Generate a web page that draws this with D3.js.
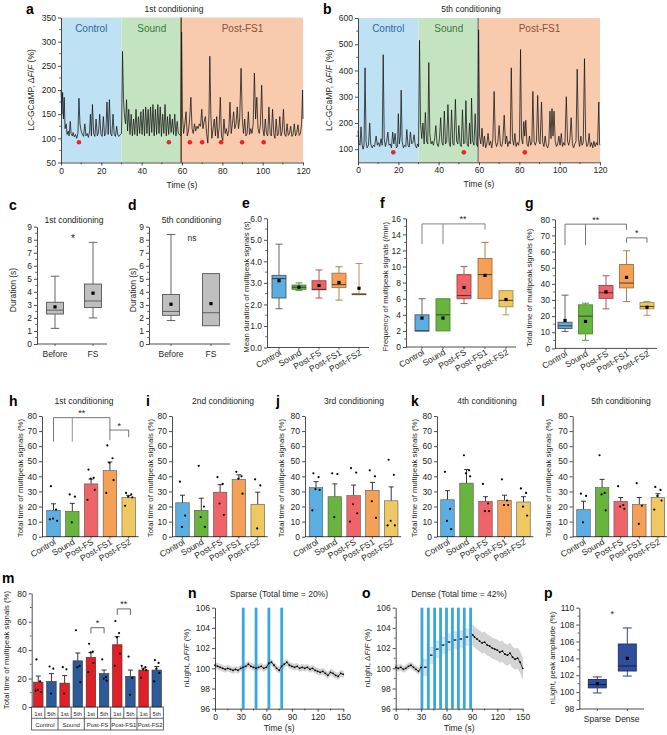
<!DOCTYPE html>
<html><head><meta charset="utf-8">
<script src="https://cdn.jsdelivr.net/npm/d3@7"></script>
<style>body{margin:0;background:#fff}text{font-family:"Liberation Sans",Arial,sans-serif}</style>
</head><body><svg id="c" width="667" height="735"></svg>
<script>
// ---------------- DATA ----------------
const regionNames = ["Control","Sound","Post-FS1"];
const regionStart = [0,30,60];
const regionEnd = [30,60,120];
const traceA = [[0,200],[0.4,150],[0.8,195],[1.2,140],[1.6,185],[2,120],[2.6,130],[3,108],[3.6,115],[4,105],[4.6,135],[5,110],[5.6,105],[6,112],[6.6,103],[7.2,108],[7.8,100],[8.4,110],[8.9,183],[9.4,130],[10,115],[10.6,108],[11.2,104],[11.8,130],[12.4,105],[13,110],[13.6,102],[14.2,115],[14.6,150],[15.1,105],[15.6,170],[16.2,110],[16.8,104],[17.4,140],[18,105],[18.6,112],[19.2,150],[19.8,108],[20.4,104],[21,145],[21.6,105],[22.2,110],[22.8,175],[23.4,108],[24,180],[24.6,110],[25.2,105],[25.8,150],[26.4,108],[27,104],[27.6,125],[28.2,106],[28.8,104],[29.4,108],[30,110],[30.5,280],[31,180],[31.4,150],[32,130],[32.5,180],[33,115],[33.6,160],[34.2,108],[34.8,150],[35.4,105],[36,140],[36.6,108],[37.2,160],[37.8,105],[38.4,145],[39,110],[39.6,155],[40.2,108],[40.8,160],[41.4,105],[42,165],[42.6,110],[43.2,160],[43.8,105],[44.4,165],[45,112],[45.6,170],[46.2,105],[46.8,160],[47.4,108],[48,170],[48.6,110],[49.2,165],[49.8,104],[50.4,150],[51,110],[51.6,170],[52.2,105],[52.8,145],[53.4,108],[54,150],[54.6,112],[55.2,140],[55.8,108],[56.4,150],[57,105],[57.6,135],[58.2,110],[58.8,108],[59.4,105],[59.8,320],[60.2,150],[60.8,110],[61.4,130],[62,155],[62.6,105],[63.2,115],[63.8,140],[64.4,185],[65,120],[65.6,110],[66.2,130],[66.8,115],[67.4,125],[68,120],[68.6,130],[69.2,125],[69.8,160],[70.4,120],[71,135],[71.6,145],[72.2,110],[72.8,90],[73.4,150],[73.8,270],[74.3,150],[74.8,100],[75.4,120],[76,140],[76.6,105],[77.2,145],[77.8,100],[78.4,120],[79,185],[79.6,105],[80.2,95],[80.8,140],[81.4,110],[82,120],[82.6,105],[83.2,115],[83.8,175],[84.4,110],[85,130],[85.6,155],[86.2,120],[86.8,130],[87.4,165],[88,120],[88.6,140],[89.3,245],[89.9,140],[90.5,110],[91.1,140],[91.7,105],[92.3,110],[92.9,155],[93.5,108],[94.1,120],[94.7,110],[95.3,130],[95.9,235],[96.5,140],[97.1,185],[97.7,120],[98.3,110],[98.9,130],[99.5,210],[100.1,120],[100.7,105],[101.3,140],[101.9,110],[102.5,105],[103.1,165],[103.7,110],[104.3,105],[104.9,160],[105.5,110],[106.1,100],[106.7,140],[107.3,105],[107.9,110],[108.5,145],[109.1,105],[109.7,115],[110.3,160],[110.9,108],[111.5,104],[112.1,130],[112.7,106],[113.3,110],[113.9,125],[114.5,104],[115.1,108],[115.7,130],[116.3,105],[116.9,112],[117.5,128],[118.1,106],[118.7,110],[119.3,130],[119.8,200],[120,140]];
const traceB = [[0,170],[0.5,120],[1,115],[1.5,185],[2,120],[2.5,100],[3,115],[3.5,410],[4,130],[4.5,105],[5.2,115],[5.8,200],[6.3,120],[7,105],[7.6,115],[8.2,110],[9,150],[9.6,115],[10.2,125],[10.8,110],[11.4,140],[12,115],[12.5,460],[13,140],[13.6,110],[14.2,130],[14.8,165],[15.4,115],[16,120],[16.6,105],[17.2,165],[17.8,120],[18.4,160],[19,105],[19.6,110],[20,235],[20.5,120],[21,150],[21.4,325],[21.9,130],[22.5,105],[23.1,115],[23.7,110],[24.2,175],[24.8,115],[25.4,108],[26,165],[26.6,120],[27.2,125],[27.8,155],[28.4,115],[29,105],[29.6,120],[30,110],[30.5,515],[31,200],[31.6,140],[32.2,200],[32.8,120],[33.4,240],[34,130],[34.6,120],[35.1,430],[35.6,160],[36.2,120],[36.8,130],[37.4,115],[38,140],[38.6,190],[39.2,120],[39.8,110],[40.4,140],[41,220],[41.6,125],[42.2,115],[42.8,245],[43.4,120],[44,130],[44.6,270],[45.2,125],[45.8,110],[46.4,250],[47,120],[47.6,115],[48.3,290],[48.9,130],[49.5,120],[50,190],[50.6,120],[51.2,110],[51.8,250],[52.4,120],[53,125],[53.5,285],[54.1,120],[54.7,110],[55.3,200],[55.9,120],[56.3,295],[56.9,130],[57.5,115],[58.1,235],[58.7,120],[59.3,110],[59.8,555],[60.3,150],[60.9,120],[61.5,180],[62.1,110],[62.7,150],[63.3,105],[63.9,120],[64.5,160],[65.1,115],[65.7,130],[66.3,105],[66.9,140],[67.5,320],[68.1,130],[68.7,110],[69.3,125],[70,190],[70.6,115],[71.2,110],[71.8,130],[72.5,230],[73.1,120],[73.7,150],[74.3,110],[74.9,130],[75.5,120],[76,410],[76.6,140],[77.2,115],[77.8,160],[78.4,110],[79,125],[79.6,115],[80.1,140],[80.6,480],[81.1,140],[81.7,120],[82.2,205],[82.7,150],[83.2,210],[83.8,120],[84.4,110],[85,150],[85.6,115],[86.2,125],[86.7,320],[87.3,130],[87.9,115],[88.5,130],[89.1,305],[89.7,130],[90.3,120],[91,280],[91.6,125],[92.2,110],[92.8,150],[93.4,115],[94,105],[94.6,120],[95.2,245],[95.7,140],[96.2,255],[96.7,150],[97.2,245],[97.8,130],[98.4,110],[99,120],[99.6,150],[100.2,115],[100.8,160],[101.4,110],[102,125],[102.6,115],[103.3,300],[103.9,130],[104.5,115],[105.1,140],[105.7,220],[106.3,120],[106.9,105],[107.5,120],[108.1,130],[108.7,405],[109.3,140],[109.9,110],[110.5,150],[111.1,115],[111.7,125],[112.3,445],[112.9,140],[113.5,110],[114.1,120],[114.6,160],[115.2,110],[115.8,125],[116.4,105],[117,130],[117.6,110],[118.2,125],[118.8,115],[119.4,280],[119.8,120],[120,115]];
const dotsA = [8.9,53.5,63.9,70,79.4,89.8,100.5];
const dotsB = [17.5,52.5,82.7];
const dotLevelA = 92, dotLevelB = 88;

const durGroups = ["Before","FS"];
const boxC = [{min:1.2,q1:2.3,med:2.6,q3:3.2,max:5.2,mean:2.85},{min:2,q1:2.8,med:3.3,q3:4.6,max:7.8,mean:3.9}];
const boxD = [{min:1.8,q1:2.2,med:2.5,q3:3.8,max:8.4,mean:3.05},{min:1.4,q1:1.4,med:2.4,q3:5.4,max:5.4,mean:3.1}];

const cats = ["Control","Sound","Post-FS","Post-FS1","Post-FS2"];
const catColors = ["#5aaee1","#67b43f","#ef6468","#f5a057","#f0c863"];
const boxE = [{min:1.8,q1:2.3,med:3.2,q3:3.35,max:4.8,mean:3.1},{min:2.65,q1:2.7,med:2.8,q3:2.9,max:3.0,mean:2.8},{min:2.3,q1:2.68,med:2.7,q3:3.1,max:3.6,mean:2.88},{min:2.2,q1:2.78,med:2.92,q3:3.45,max:3.75,mean:3.02},{min:2.45,q1:2.45,med:2.47,q3:2.5,max:3.9,mean:2.75}];
const boxF = [{min:2,q1:2,med:2,q3:4,max:6,mean:3.6},{min:2,q1:2,med:4,q3:6,max:6,mean:3.6},{min:5.4,q1:6,med:6.4,q3:9,max:10,mean:7.4},{min:6,q1:6,med:9,q3:11,max:13,mean:8.9},{min:4,q1:5,med:5.8,q3:7,max:7,mean:5.9}];
const boxG = [{min:10.5,q1:12.3,med:14,q3:16.2,max:33,mean:17.3},{min:5,q1:9,med:20,q3:27,max:28,mean:16.7},{min:24.5,q1:31,med:34.5,q3:39,max:45,mean:35},{min:29,q1:37.5,med:40.5,q3:52,max:60.5,mean:44},{min:20.5,q1:24.5,med:26,q3:28.5,max:29,mean:25.5}];

const meanH = [17.5,16.8,35,43.8,26], semH = [4.3,5.3,3.2,5.7,1.4];
const dotsH = [[33.5,18,12,10.5,11.5],[28,26.5,9.5],[44.5,39,38.5,31,24.5],[60.5,52,49,37.5,29],[29,28,26.5,26,20.5]];
const meanI = [22.5,17.5,29.5,38,21.5], semI = [5,8,5,3,8];
const dotsI = [[36.5,14,6.5],[47,20,13,6.5],[39.5,35,22,14.5],[43,40,38.5,28.5],[38,34,5.5]];
const meanJ = [32.5,26.5,27.2,30.7,23.8], semJ = [4,8.5,7,5.3,9.2];
const dotsJ = [[42,39.5,31.5,31,17.5],[42,41.5,13],[45.5,42.5,21.5,15.5,10],[44,40,23.5,12.5],[51,41,10.5,7.5,7.5]];
const meanK = [24.5,35.5,23.5,24,23], semK = [6,9,3,3.5,3.5];
const dotsK = [[43,18.5,10.5,5],[54,44,42,40],[35,22,17,17],[38,24,21,21],[32,29,20,14]];
const meanL = [18,32.5,23.5,21.5,26], semL = [5.5,5.5,2.5,4.5,2.5];
const dotsL = [[28.5,27,9.5],[54,29,28,17.5],[33.5,21,20,18.5],[35.5,20.5,8.5],[33,31,27,24,18]];
const sessions = ["1st","5th"];

const traceN = [[0,100.3],[3,100.2],[6,100.1],[9,100.0],[12,99.9],[15,100.0],[18,99.9],[21,99.8],[24,99.9],[27,99.8],[30,100.0],[33,100.1],[36,100.2],[39,100.4],[42,100.2],[45,100.1],[48,100.0],[51,100.1],[54,100.2],[57,100.0],[60,100.1],[63,100.5],[66,100.6],[69,100.3],[72,100.0],[75,99.8],[78,100.2],[81,100.4],[84,100.6],[87,100.3],[90,100.2],[93,100.1],[96,100.2],[99,100.0],[102,100.1],[105,100.0],[108,100.1],[111,99.9],[114,100.0],[117,99.8],[120,99.7],[123,99.6],[126,99.7],[129,99.5],[132,99.3],[135,99.6],[138,99.5],[141,99.3],[144,99.2],[147,99.5],[150,99.4]];
const semN = 0.3;
const stimN = [33,48,63,78];
const traceOpre = [[0,100.1],[3,100.0],[6,100.1],[9,99.9],[12,100.0],[15,100.2],[18,100.3],[21,100.1],[24,99.9],[27,99.7],[30,100.1]];
const traceOstim = [[35,100.1],[42,101.3],[49,101.9],[56,102.3],[63,102.6],[70,102.8],[77,102.9],[84,103.1]];
const traceOpost = [[91,103.3],[93,103.1],[96,102.9],[99,102.7],[102,102.5],[105,102.6],[108,102.3],[111,102.2],[114,102.0],[117,101.9],[120,101.8],[123,101.6],[126,101.7],[129,101.4],[132,101.3],[135,101.5],[138,101.1],[141,100.9],[144,101.0],[147,100.6],[150,100.0]];
const semOpre = 0.3, semOpost = 1.0;
const stimO = [31,38.5,46,53,60,67,74,81,88.5];
const boxP = [{min:99.9,q1:100.5,med:100.9,q3:101.5,max:101.8,mean:101.0},{min:101.9,q1:102.5,med:103.1,q3:105.7,max:107.6,mean:104.0}];
const pGroups = ["Sparse","Dense"];

// ---------------- HELPERS ----------------
const svg = d3.select("#c");
const INK = "#231f20";
function txt(x,y,s,o={}){
  const t = svg.append("text").attr("x",x).attr("y",y).text(s)
    .attr("font-size",o.size||8.5).attr("text-anchor",o.anchor||"middle").attr("fill",o.fill||INK);
  if(o.bold) t.attr("font-weight","bold");
  if(o.rotate!=null) t.attr("transform",`rotate(${o.rotate},${x},${y})`);
  return t;
}
function letter(x,y,s){ txt(x,y,s,{size:14,bold:true,anchor:"start",fill:"#000"}); }
function ylab(x,y,s,size=8){ return txt(x,y,s,{rotate:-90,size}); }
function styleAxis(g){
  g.selectAll("path,line").attr("stroke",INK).attr("stroke-width",0.8);
  g.selectAll("text").attr("font-size",8.5).attr("fill",INK).attr("font-family","Liberation Sans, Arial, sans-serif");
}
function yAxis(x, scale, ticks, minor){
  const g = svg.append("g").attr("transform",`translate(${x},0)`)
    .call(d3.axisLeft(scale).tickValues(ticks).tickSize(3).tickPadding(2).tickSizeOuter(0));
  styleAxis(g);
  if(minor) g.selectAll("line.mn").data(minor).join("line").attr("class","mn")
      .attr("x1",-1.8).attr("x2",0).attr("y1",d=>scale(d)).attr("y2",d=>scale(d)).attr("stroke",INK).attr("stroke-width",0.7);
  return g;
}
function xAxisLin(y, scale, ticks, minor){
  const g = svg.append("g").attr("transform",`translate(0,${y})`)
    .call(d3.axisBottom(scale).tickValues(ticks).tickSize(3).tickPadding(2).tickSizeOuter(0));
  styleAxis(g);
  if(minor) g.selectAll("line.mn").data(minor).join("line").attr("class","mn")
      .attr("y1",0).attr("y2",1.8).attr("x1",d=>scale(d)).attr("x2",d=>scale(d)).attr("stroke",INK).attr("stroke-width",0.7);
  return g;
}
function xAxisCat(y, x0, x1, xs, labels, rotated){
  svg.append("line").attr("x1",x0).attr("x2",x1).attr("y1",y).attr("y2",y).attr("stroke",INK).attr("stroke-width",0.8);
  svg.selectAll(null).data(labels).join("line").attr("x1",d=>xs(d)).attr("x2",d=>xs(d)).attr("y1",y).attr("y2",y+2).attr("stroke",INK).attr("stroke-width",0.7);
  labels.forEach(l=>{
    if(rotated) txt(xs(l)+3,y+7,l,{anchor:"end",rotate:-30,size:8.5});
    else txt(xs(l),y+13,l,{size:8.5});
  });
}
function boxPlot(xs, ys, keys, data, w, fills, strokes, medColor){
  keys.forEach((k,i)=>{
    const d=data[i], cx=xs(k), f=fills[i], s=strokes[i];
    const g=svg.append("g");
    g.append("line").attr("x1",cx).attr("x2",cx).attr("y1",ys(d.max)).attr("y2",ys(d.q3)).attr("stroke",s).attr("stroke-width",0.9);
    g.append("line").attr("x1",cx).attr("x2",cx).attr("y1",ys(d.q1)).attr("y2",ys(d.min)).attr("stroke",s).attr("stroke-width",0.9);
    if(d.max>d.q3) g.append("line").attr("x1",cx-w/4).attr("x2",cx+w/4).attr("y1",ys(d.max)).attr("y2",ys(d.max)).attr("stroke",s).attr("stroke-width",0.9);
    if(d.min<d.q1) g.append("line").attr("x1",cx-w/4).attr("x2",cx+w/4).attr("y1",ys(d.min)).attr("y2",ys(d.min)).attr("stroke",s).attr("stroke-width",0.9);
    g.append("rect").attr("x",cx-w/2).attr("width",w).attr("y",ys(d.q3)).attr("height",Math.max(0.8,ys(d.q1)-ys(d.q3)))
      .attr("fill",f).attr("stroke",s).attr("stroke-width",0.9);
    g.append("line").attr("x1",cx-w/2).attr("x2",cx+w/2).attr("y1",ys(d.med)).attr("y2",ys(d.med)).attr("stroke",medColor||s).attr("stroke-width",0.9);
    g.append("rect").attr("x",cx-1.6).attr("y",ys(d.mean)-1.6).attr("width",3.2).attr("height",3.2).attr("fill","#000");
  });
}
const dotOff = [-2.5,2.5,-0.5,3.5,-3.5];
function barPlot(xs, ys, keys, means, sems, dots, w, fills, stroke){
  keys.forEach((k,i)=>{
    const cx=xs(k);
    svg.append("line").attr("x1",cx).attr("x2",cx).attr("y1",ys(means[i])).attr("y2",ys(means[i]+sems[i])).attr("stroke",INK).attr("stroke-width",0.9);
    svg.append("line").attr("x1",cx-2.5).attr("x2",cx+2.5).attr("y1",ys(means[i]+sems[i])).attr("y2",ys(means[i]+sems[i])).attr("stroke",INK).attr("stroke-width",0.9);
    svg.append("rect").attr("x",cx-w/2).attr("width",w).attr("y",ys(means[i])).attr("height",ys(0)-ys(means[i]))
      .attr("fill",fills[i]).attr("stroke",stroke).attr("stroke-width",0.6);
    svg.selectAll(null).data(dots[i]).join("circle").attr("cx",(d,j)=>cx+dotOff[j%5]*w/13).attr("cy",d=>ys(d)).attr("r",1.1).attr("fill","#000");
  });
}
function bracket(x1,x2,y,d1,d2,color="#444"){
  const p=`M${x1},${d1}L${x1},${y}L${x2},${y}L${x2},${d2}`;
  svg.append("path").attr("d",p).attr("fill","none").attr("stroke",color).attr("stroke-width",0.9);
}

// ---------------- PANELS a, b ----------------
function tracePanel(ax, x1, yTop, yBot, dom, traceData, ticksY, minorY, dots, dotLevel, sepColor, title, lbl, lblX, ylabX){
  const xs=d3.scaleLinear().domain([0,120]).range([ax,x1]);
  const ys=d3.scaleLinear().domain(dom).range([yBot,yTop]);
  const bg=["#bfe1f4","#c4e4c1","#f8cbae"], tc=["#2f679f","#3b7a3b","#8b5038"];
  regionNames.forEach((n,i)=>{
    svg.append("rect").attr("x",xs(regionStart[i])).attr("width",xs(regionEnd[i])-xs(regionStart[i]))
      .attr("y",ys(dom[1])).attr("height",ys(dom[0])-ys(dom[1])).attr("fill",bg[i]);
    txt((xs(regionStart[i])+xs(regionEnd[i]))/2, yTop+14, n, {size:10,fill:tc[i]});
  });
  svg.append("line").attr("x1",xs(59.6)).attr("x2",xs(59.6)).attr("y1",ys(dom[0])).attr("y2",ys(dom[1])).attr("stroke",sepColor).attr("stroke-width",1.6);
  svg.append("path").datum(traceData).attr("d",d3.line().x(d=>xs(d[0])).y(d=>ys(d[1])))
    .attr("fill","none").attr("stroke","#111").attr("stroke-width",0.75);
  svg.selectAll(null).data(dots).join("circle").attr("cx",d=>xs(d)).attr("cy",ys(dotLevel)).attr("r",2.3).attr("fill","#e8262a");
  yAxis(ax, ys, ticksY, minorY);
  xAxisLin(yBot, xs, d3.range(0,121,20), d3.range(10,120,20));
  txt((ax+x1)/2, yBot+25, "Time (s)", {size:8.5});
  txt((ax+x1)/2-8, 12, title, {size:8.5});
  letter(lblX, 14, lbl);
  const t=ylab(ylabX, (yTop+yBot)/2, "", 8.5);
  t.append("tspan").text("LC-GCaMP, \u0394");
  t.append("tspan").attr("font-style","italic").text("F");
  t.append("tspan").text("/");
  t.append("tspan").attr("font-style","italic").text("F");
  t.append("tspan").text(" (%)");
}
tracePanel(61,303,17.5,162.5,[50,350],traceA,d3.range(50,351,50),d3.range(75,350,50),dotsA,dotLevelA,"#7b4a2c","1st conditioning","a",26,34);
tracePanel(358,600,18,162.3,[50,600],traceB,d3.range(100,601,100),d3.range(150,600,100),dotsB,dotLevelB,"#8c8c8c","5th conditioning","b",323,332);

// ---------------- PANELS c, d ----------------
function durPanel(ax, x1, centers, data, title, lbl, lblX, ylabX, sig, sigX, sigV){
  const ys=d3.scaleLinear().domain([0,9]).range([344,226.7]);
  const xs=d3.scalePoint().domain(durGroups).range(centers);
  yAxis(ax, ys, d3.range(0,10,1), d3.range(0.5,9,1));
  xAxisCat(344, ax, x1, xs, durGroups, false);
  boxPlot(xs, ys, durGroups, data, 17, ["#bfbfbf","#bfbfbf"], ["#555","#555"]);
  txt((ax+x1)/2+2, 223, title, {size:8.5});
  letter(lblX, 210, lbl);
  ylab(ylabX, 290, "Duration (s)", 8.5);
  txt(sigX, ys(sigV)+ (sig==="*"?5:3), sig, {size:sig==="*"?10:8.5});
}
durPanel(37,107,[55,93],boxC,"1st conditioning","c",9,16,"*",73,8.2);
durPanel(149,230,[171,211],boxD,"5th conditioning","d",128,136,"ns",192,8.1);

// ---------------- PANELS e, f, g ----------------
function boxCatPanel(ax, c0, sp, y0, y1, dom, ticks, minor, data, ylabel, lbl, lblX, ylabX){
  const ys=d3.scaleLinear().domain(dom).range([y0,y1]);
  const xs=d3.scalePoint().domain(cats).range([c0,c0+4*sp]);
  yAxis(ax, ys, ticks, minor);
  xAxisCat(y0, ax, c0+4*sp+10, xs, cats, true);
  boxPlot(xs, ys, cats, data, 14, catColors, ["#555","#4d8a2c","#a04448","#a8703a","#a08c48"], "#333");
  letter(lblX, 208, lbl);
  ylab(ylabX, (y0+y1)/2+4, ylabel, 7.8);
  return {xs,ys};
}
boxCatPanel(267,279,20,347.5,218.3,[0,6],d3.range(0,7,1),d3.range(0.5,6,1),boxE,"Mean duration of multipeak signals (s)","e",242,249);
const F = boxCatPanel(406,422,21,347,218.3,[0,16],d3.range(0,17,2),d3.range(1,16,2),boxF,"Frequency of multipeak signals (/min)","f",380,388);
bracket(F.xs("Control"),F.xs("Post-FS1"),F.ys(15.3),F.ys(12.8),F.ys(14.6),"#777");
svg.append("line").attr("x1",F.xs("Sound")).attr("x2",F.xs("Sound")).attr("y1",F.ys(15.3)).attr("y2",F.ys(12.8)).attr("stroke","#777").attr("stroke-width",0.9);
txt((F.xs("Sound")+F.xs("Post-FS1"))/2-1, F.ys(15.3)-1.5, "**", {size:9});
const G = boxCatPanel(555,565,20.5,348.4,219.3,[0,80],d3.range(0,81,10),d3.range(5,80,10),boxG,"Total time of multipeak signals (%)","g",525,532);
bracket(G.xs("Control"),G.xs("Post-FS1"),G.ys(77),G.ys(64),G.ys(73.5),"#666");
svg.append("line").attr("x1",G.xs("Sound")).attr("x2",G.xs("Sound")).attr("y1",G.ys(77)).attr("y2",G.ys(64)).attr("stroke","#666").attr("stroke-width",0.9);
txt((G.xs("Sound")+G.xs("Post-FS"))/2, G.ys(77)-1.5, "**", {size:9});
bracket(G.xs("Post-FS1"),G.xs("Post-FS2"),G.ys(68.5),G.ys(65.5),G.ys(65.5),"#666");
txt((G.xs("Post-FS1")+G.xs("Post-FS2"))/2, G.ys(68.5)-1.5, "*", {size:9});

// ---------------- PANELS h - l ----------------
function barPanel(ax, c0, sp, means, sems, dots, title, titleX, lbl, lblX, ylabX){
  const ys=d3.scaleLinear().domain([0,80]).range([536.7,416]);
  const xs=d3.scalePoint().domain(cats).range([c0,c0+4*sp]);
  barPlot(xs, ys, cats, means, sems, dots, 13.5, catColors, "#555");
  yAxis(ax, ys, d3.range(0,81,10), null);
  xAxisCat(536.7, ax, c0+4*sp+10, xs, cats, true);
  txt(titleX, 404, title, {size:8.5});
  letter(lblX, 406, lbl);
  ylab(ylabX, 478, "Total time of multipeak signals (%)", 7.8);
  return {xs,ys};
}
const H = barPanel(42,53.5,18.8,meanH,semH,dotsH,"1st conditioning",84,"h",9,23);
bracket(H.xs("Control"),H.xs("Post-FS1"),H.ys(78.9),H.ys(63),H.ys(64),"#666");
svg.append("line").attr("x1",H.xs("Sound")).attr("x2",H.xs("Sound")).attr("y1",H.ys(78.9)).attr("y2",H.ys(63)).attr("stroke","#888").attr("stroke-width",0.9);
txt((H.xs("Sound")+H.xs("Post-FS"))/2, H.ys(78.9)-1.5, "**", {size:9});
bracket(H.xs("Post-FS1"),H.xs("Post-FS2"),H.ys(70.7),H.ys(70.7),H.ys(66),"#666");
txt((H.xs("Post-FS1")+H.xs("Post-FS2"))/2, H.ys(70.7)-1.5, "*", {size:9});
barPanel(172,182.5,18.8,meanI,semI,dotsI,"2nd conditioning",223,"i",146,153);
barPanel(305,316,18.8,meanJ,semJ,dotsJ,"3rd conditioning",354,"j",276,284);
barPanel(437,447.5,19,meanK,semK,dotsK,"4th conditioning",487,"k",411,417);
barPanel(572.7,583.5,18.6,meanL,semL,dotsL,"5th conditioning",621,"l",541,551);

// ---------------- PANEL m ----------------
(function(){
  const ax=31.7, ys=d3.scaleLinear().domain([0,80]).range([707,593.3]);
  const groups=[]; cats.forEach(c=>sessions.forEach(s=>groups.push(c+"|"+s)));
  const xs=d3.scaleBand().domain(groups).range([31.7,163.3]);
  const cw=xs.bandwidth();
  const means=[], sems=[], dots=[], fills=[];
  cats.forEach((c,i)=>{ means.push(meanH[i],meanL[i]); sems.push(semH[i],semL[i]); dots.push(dotsH[i],dotsL[i]); fills.push("#e21f26","#2d5a98"); });
  const cx=d=>xs(d)+cw/2;
  barPlot(cx, ys, groups, means, sems, dots, 9.5, fills, "#333");
  yAxis(ax, ys, d3.range(0,81,20), d3.range(10,80,20));
  const tg=svg.append("g");
  tg.append("rect").attr("x",31.7).attr("y",707).attr("width",131.6).attr("height",23).attr("fill","none").attr("stroke",INK).attr("stroke-width",0.7);
  tg.append("line").attr("x1",31.7).attr("x2",163.3).attr("y1",718.3).attr("y2",718.3).attr("stroke",INK).attr("stroke-width",0.7);
  groups.forEach((g,i)=>{
    if(i>0) tg.append("line").attr("x1",xs(g)).attr("x2",xs(g)).attr("y1",707).attr("y2",i%2===0?730:718.3).attr("stroke",INK).attr("stroke-width",0.7);
    txt(cx(g),715.5,g.split("|")[1],{size:6});
  });
  cats.forEach(c=>txt(xs(c+"|1st")+cw,727.3,c,{size:6}));
  bracket(cx("Post-FS|1st"),cx("Post-FS|5th"),ys(55.8),ys(51.8),ys(51.8),"#555");
  txt((cx("Post-FS|1st")+cx("Post-FS|5th"))/2, ys(55.8)-1.5, "*", {size:9});
  bracket(cx("Post-FS1|1st"),cx("Post-FS1|5th"),ys(69),ys(64.8),ys(64.8),"#555");
  txt((cx("Post-FS1|1st")+cx("Post-FS1|5th"))/2, ys(69)-1.5, "**", {size:9});
  letter(2, 583, "m");
  ylab(9, 650, "Total time of multipeak signals (%)", 7.8);
})();

// ---------------- PANELS n, o ----------------
function lightPanel(ax, x1, stims, segs, title, titleX, lbl, lblX, ylabX, discrete){
  const xs=d3.scaleLinear().domain([0,150]).range([ax,x1]);
  const ys=d3.scaleLinear().domain([96,106]).range([708.7,607.7]);
  segs.forEach(s=>{
    svg.append("path").datum(s.data).attr("d",d3.area().x(d=>xs(d[0])).y0(d=>ys(d[1]-s.sem)).y1(d=>ys(d[1]+s.sem)))
      .attr("fill","#d4d4d4").attr("stroke","#bdbdbd").attr("stroke-width",0.4);
  });
  if(discrete){
    svg.selectAll(null).data(discrete.data).join("rect").attr("x",d=>xs(d[0])-2.5).attr("width",5)
      .attr("y",d=>ys(d[1]+discrete.sem)).attr("height",d=>ys(d[1]-discrete.sem)-ys(d[1]+discrete.sem)).attr("fill","#d9e3ea").attr("stroke","#bbb").attr("stroke-width",0.4);
  }
  svg.selectAll(null).data(stims).join("rect").attr("x",d=>xs(d)-1.4).attr("width",2.8).attr("y",ys(106)).attr("height",ys(96)-ys(106)).attr("fill","#3aa7da");
  segs.forEach(s=>{
    svg.append("path").datum(s.data).attr("d",d3.line().x(d=>xs(d[0])).y(d=>ys(d[1])))
      .attr("fill","none").attr("stroke","#111").attr("stroke-width",0.8);
    svg.selectAll(null).data(s.data).join("circle").attr("cx",d=>xs(d[0])).attr("cy",d=>ys(d[1])).attr("r",0.9).attr("fill","#000");
  });
  if(discrete) svg.selectAll(null).data(discrete.data).join("rect").attr("x",d=>xs(d[0])-1.3).attr("width",2.6).attr("y",d=>ys(d[1])-0.6).attr("height",1.2).attr("fill","#000");
  yAxis(ax, ys, d3.range(96,107,2), d3.range(97,106,2));
  xAxisLin(708.7, xs, d3.range(0,151,30), d3.range(15,150,30));
  txt((ax+x1)/2, 731, "Time (s)", {size:8.5});
  txt(titleX, 597, title, {size:8.5});
  letter(lblX, 598, lbl);
  const t=ylab(ylabX, 658, "", 8);
  t.append("tspan").text("nLight, \u0394");
  t.append("tspan").attr("font-style","italic").text("F");
  t.append("tspan").text("/");
  t.append("tspan").attr("font-style","italic").text("F");
  t.append("tspan").text(" (%)");
}
lightPanel(215,343.3,stimN,[{data:traceN,sem:semN}],"Sparse (Total time = 20%)",279,"n",188,189,null);
lightPanel(395.7,522.7,stimO,[{data:traceOpre,sem:semOpre},{data:traceOpost,sem:semOpost}],"Dense (Total time = 42%)",459,"o",362,370,{data:traceOstim,sem:0.8});

// ---------------- PANEL p ----------------
(function(){
  const ax=579.3, ys=d3.scaleLinear().domain([98,110]).range([709,607.7]);
  const xs=d3.scalePoint().domain(pGroups).range([597.3,627.3]);
  yAxis(ax, ys, d3.range(98,111,2), d3.range(99,110,2));
  xAxisCat(709, ax, 644, xs, pGroups, false);
  boxPlot(xs, ys, pGroups, boxP, 18, ["#2f4e9c","#2f4e9c"], ["#1e2f66","#1e2f66"], "#0f1a40");
  txt((xs("Sparse")+xs("Dense"))/2, ys(109.4)+4, "*", {size:9});
  letter(544, 598, "p");
  ylab(555, 658, "nLight, peak amplitude (%)", 7.8);
})();
</script></body></html>
